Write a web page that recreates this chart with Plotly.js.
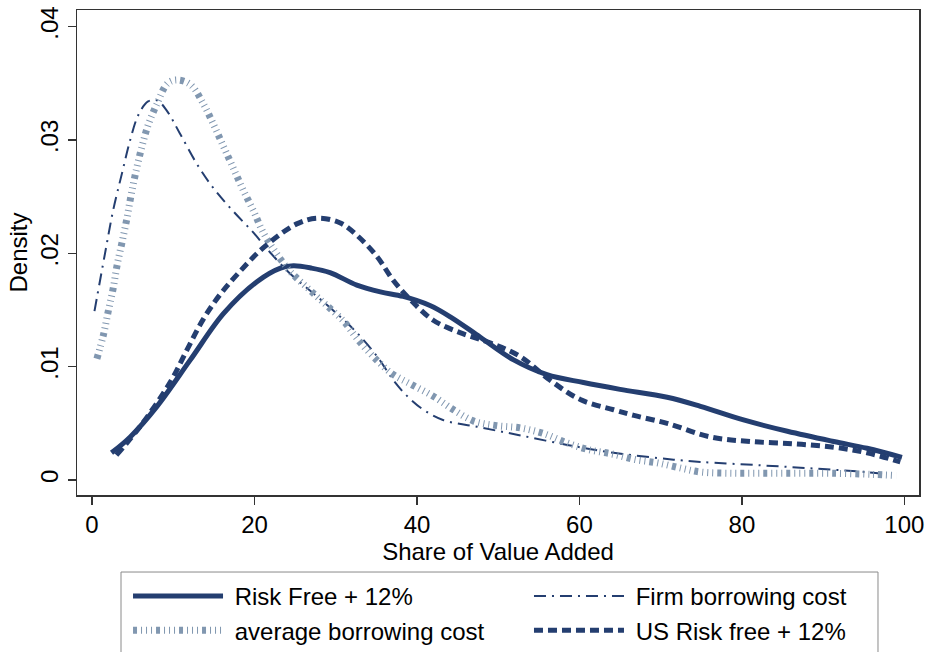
<!DOCTYPE html>
<html>
<head>
<meta charset="utf-8">
<script src="https://cdn.plot.ly/plotly-3.0.1.min.js"></script>
<style>
  html, body { margin: 0; padding: 0; background: #ffffff; }
  #chart { width: 930px; height: 652px; }
</style>
</head>
<body>
<div id="chart"></div>
<script>
// Kernel density estimates of the share of value added, four discount-rate scenarios
const seriesNames = ["Risk Free + 12%", "Firm borrowing cost", "average borrowing cost", "US Risk free + 12%"];

const riskFreeX = [2.4, 4.7, 8.0, 12.1, 16.2, 20.3, 23.2, 24.8, 27, 29.3, 32.6, 35.5, 38.3, 41.6, 44.1, 47.8, 51.9, 56, 60.5, 65, 70.8, 74.9, 80.2, 85.6, 91.3, 95.4, 99.7];
const riskFreeY = [.0024, .0038, .0065, .0106, .0147, .0175, .0187, .0189, .0187, .0183, .0172, .0166, .0162, .0154, .0144, .0126, .0106, .0093, .0086, .0080, .0073, .0065, .0053, .0043, .0034, .0028, .0020];

const firmX = [0.3, 1.6, 2.6, 3.7, 4.7, 5.7, 6.9, 8.0, 9.2, 10.8, 12.9, 15, 17.4, 19.9, 21.9, 24.4, 27.2, 30.1, 32.6, 35.1, 37.1, 38.8, 40.8, 43.2, 47.4, 52.3, 58.5, 64.2, 71.6, 74.9, 82.3, 89.2, 95.4, 97.8];
const firmY = [.0149, .0200, .0238, .0271, .0300, .0322, .0334, .0335, .0326, .0306, .0279, .0257, .0237, .0218, .0201, .0182, .0165, .0147, .0130, .0109, .0088, .0074, .0062, .0053, .0047, .0040, .0031, .0024, .0018, .0016, .0013, .0010, .0007, .0005];

const avgX = [0.6, 1.4, 2.0, 2.6, 3.1, 3.7, 4.3, 4.8, 5.4, 6.1, 6.9, 8.0, 9.3, 10.4, 12.1, 13.7, 15, 16.2, 17.4, 18.6, 19.9, 21.1, 22.7, 24.4, 26.6, 28.9, 31, 32.6, 34.6, 36.9, 39.4, 42, 44.5, 47, 49.8, 52.7, 55.6, 58.4, 61, 64, 66.9, 69.7, 72.8, 75, 79, 83, 87, 91, 96, 99];
const avgY = [.0107, .0128, .0149, .0169, .0190, .0210, .0231, .0251, .0272, .0293, .0313, .0332, .0350, .0353, .0349, .0332, .0313, .0294, .0275, .0256, .0237, .0218, .0200, .0184, .0169, .0154, .0140, .0125, .0109, .0094, .0084, .0074, .0062, .0052, .0048, .0046, .0041, .0033, .0027, .0023, .0018, .0015, .0010, .0007, .0006, .0006, .0006, .0006, .0005, .0004];

const usX = [3, 6, 9.6, 11.7, 13.7, 15.8, 18.2, 21.1, 25.2, 27.8, 30.5, 32.6, 35.1, 37.1, 39.2, 42, 45.3, 49, 52.7, 56.4, 60.1, 64.2, 66.7, 70.8, 76.1, 81, 86.3, 91.3, 95.4, 99.5];
const usY = [.0022, .0048, .0086, .0115, .0142, .0164, .0184, .0205, .0226, .0231, .0227, .0216, .0197, .0176, .0159, .0141, .0130, .0121, .0109, .0088, .0071, .0062, .0057, .0050, .0038, .0034, .0032, .0029, .0024, .0016];

const xTickVals = [0, 20, 40, 60, 80, 100];
const yTickVals = [0, 0.01, 0.02, 0.03, 0.04];
const yTickText = ["0", ".01", ".02", ".03", ".04"];

const NAVY = "#243e70";
const STEEL = "#8197b0";
const FONT = "Liberation Sans, Arial, Helvetica, sans-serif";
const SIZE = 24;
const GAP = "\u00a0";   // small space between the key line and its label

const traces = [
  { x: riskFreeX, y: riskFreeY, name: GAP + seriesNames[0], mode: "lines", legend: "legend",
    line: { color: NAVY, width: 5, shape: "spline", smoothing: 1 } },
  { x: firmX, y: firmY, name: GAP + seriesNames[1], mode: "lines", legend: "legend2",
    line: { color: NAVY, width: 2, dash: "12px,6px,2px,6px", shape: "spline", smoothing: 1 } },
  { x: avgX, y: avgY, name: GAP + seriesNames[2], mode: "lines", legend: "legend",
    line: { color: STEEL, width: 7, dash: "4px,4px,1px,4px,1px,4px,1px,4px", shape: "spline", smoothing: 1 } },
  { x: usX, y: usY, name: GAP + seriesNames[3], mode: "lines", legend: "legend2",
    line: { color: NAVY, width: 5, dash: "9px,5px", shape: "spline", smoothing: 1 } }
];

// two key columns, framed together by one box
const legendBase = {
  orientation: "v",
  xref: "paper", yref: "container",
  xanchor: "left", yanchor: "top",
  y: 0.1196,
  bgcolor: "rgba(0,0,0,0)", borderwidth: 0,
  itemwidth: 90,
  tracegroupgap: 0,
  font: { family: FONT, size: SIZE, color: "#000000" },
  traceorder: "normal"
};

const layout = {
  width: 930, height: 652,
  margin: { l: 77, r: 11, t: 10, b: 157 },
  paper_bgcolor: "#ffffff", plot_bgcolor: "#ffffff",
  font: { family: FONT, size: SIZE, color: "#000000" },
  showlegend: true,
  legend: Object.assign({}, legendBase, { x: 0.0606 }),
  legend2: Object.assign({}, legendBase, { x: 0.5368 }),
  shapes: [{
    type: "rect", xref: "paper", yref: "paper", layer: "below",
    x0: 0.05226, x1: 0.9513, y0: -0.1588, y1: -0.345,
    line: { color: "#8a8a8a", width: 1 }, fillcolor: "rgba(0,0,0,0)"
  }],
  xaxis: {
    range: [-1.85, 101.8],
    tickvals: xTickVals,
    ticks: "outside", ticklen: 8, tickwidth: 1.5, tickcolor: "#333333",
    showline: true, linecolor: "#333333", linewidth: 1.5, mirror: true,
    showgrid: false, zeroline: false,
    tickfont: { family: FONT, size: SIZE },
    title: { text: "Share of Value Added", font: { family: FONT, size: SIZE }, standoff: 0 }
  },
  yaxis: {
    range: [-0.00132, 0.04147],
    tickvals: yTickVals, ticktext: yTickText, tickangle: -90,
    ticks: "outside", ticklen: 8, tickwidth: 1.5, tickcolor: "#333333",
    showline: true, linecolor: "#333333", linewidth: 1.5, mirror: true,
    showgrid: false, zeroline: false,
    tickfont: { family: FONT, size: SIZE },
    title: { text: "Density", font: { family: FONT, size: SIZE }, standoff: 1 }
  }
};

Plotly.newPlot("chart", traces, layout, { staticPlot: true, displayModeBar: false });
</script>
</body>
</html>
